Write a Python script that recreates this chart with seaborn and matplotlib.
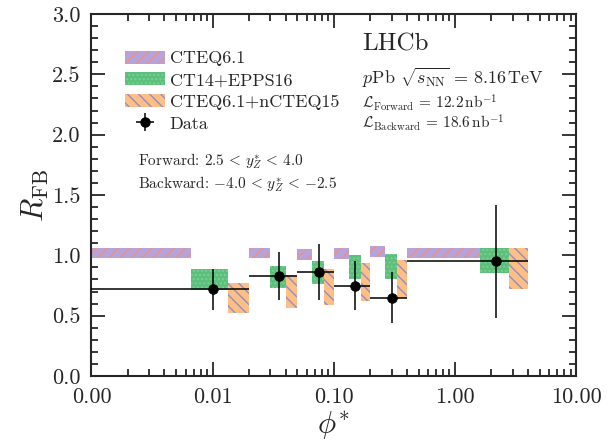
import numpy as np
import pandas as pd
import matplotlib
matplotlib.use("Agg")
import matplotlib.pyplot as plt
import seaborn as sns
from matplotlib.patches import Patch
from matplotlib.ticker import FixedLocator, MultipleLocator, FormatStrFormatter, NullFormatter, LogLocator
from matplotlib.legend_handler import HandlerTuple
from matplotlib.lines import Line2D

# phi* bin edges
bin_lo = [0.0, 0.02, 0.05, 0.1, 0.2, 0.4]
bin_hi = [0.02, 0.05, 0.1, 0.2, 0.4, 4.0]

# measured R_FB and total uncertainty
r_fb = [0.72, 0.83, 0.86, 0.75, 0.65, 0.95]
r_fb_err = [0.17, 0.20, 0.23, 0.20, 0.21, 0.47]

# theory predictions: lower / upper edges of the uncertainty band
cteq_lo = [0.98, 0.98, 0.965, 0.97, 0.99, 0.98]
cteq_hi = [1.065, 1.065, 1.05, 1.06, 1.075, 1.065]
epps_lo = [0.71, 0.73, 0.76, 0.80, 0.80, 0.85]
epps_hi = [0.885, 0.91, 0.95, 1.00, 1.01, 1.06]
ncteq_lo = [0.52, 0.56, 0.585, 0.625, 0.645, 0.72]
ncteq_hi = [0.77, 0.84, 0.885, 0.94, 0.965, 1.065]

x_ticks = [0.001, 0.01, 0.1, 1.0, 10.0]

sns.set_style("ticks")
plt.rcParams.update({
    "font.family": "serif",
    "font.serif": ["cmr10"],
    "mathtext.fontset": "cm",
    "axes.unicode_minus": False,
    "axes.formatter.use_mathtext": True,
    "axes.linewidth": 1.5,
    "hatch.linewidth": 1.0,
})

df = pd.DataFrame({
    "lo": bin_lo, "hi": bin_hi, "r": r_fb, "err": r_fb_err,
})
df["center"] = 0.5 * (df["lo"] + df["hi"])
df["w"] = (df["hi"] - df["lo"]) / 3.0

fig = plt.figure(figsize=(6.07, 4.48), dpi=100)
ax = fig.add_axes([0.1507, 0.1607, 0.7985, 0.8080])
ax.set_xscale("log")

c_purple = "#b7a3dc"
c_salmon = "#f0907a"
c_green = "#5cbf7c"
c_green_h = "#7bd094"
c_orange = "#ffbe84"
c_blue = "#8f8fca"

bands = [
    (cteq_lo, cteq_hi, 0, c_purple, c_salmon, "///", "CTEQ6.1"),
    (epps_lo, epps_hi, 1, c_green, c_green_h, "....", "CT14+EPPS16"),
    (ncteq_lo, ncteq_hi, 2, c_orange, c_blue, "\\\\\\", "CTEQ6.1+nCTEQ15"),
]
handles = []
for lo, hi, k, fc, hc, hatch, lab in bands:
    left = df["lo"] + k * df["w"]
    ax.bar(left, np.array(hi) - np.array(lo), width=df["w"], bottom=lo,
           align="edge", facecolor=fc, edgecolor=hc, hatch=hatch,
           linewidth=0, zorder=2)
    handles.append(Patch(facecolor=fc, edgecolor=hc, hatch=hatch,
                         linewidth=0, label=lab))

eb = ax.errorbar(df["center"], df["r"],
                 xerr=[df["center"] - df["lo"], df["hi"] - df["center"]],
                 yerr=df["err"], fmt="none", ecolor="black",
                 elinewidth=1.1, capsize=0, zorder=4)
sns.scatterplot(data=df, x="center", y="r", ax=ax, color="black", s=48,
                edgecolor="black", zorder=5, legend=False)
mk = Line2D([], [], marker="o", color="black", linestyle="none", markersize=6.5)
handles.append((eb, mk))

ax.set_xlim(0.001, 10.0)
ax.set_ylim(0.0, 3.0)
ax.xaxis.set_major_locator(FixedLocator(x_ticks))
ax.xaxis.set_major_formatter(FormatStrFormatter("%.2f"))
ax.xaxis.set_minor_locator(LogLocator(base=10, subs=np.arange(2, 10), numticks=20))
ax.xaxis.set_minor_formatter(NullFormatter())
ax.yaxis.set_major_locator(MultipleLocator(0.5))
ax.yaxis.set_minor_locator(MultipleLocator(0.1))
ax.yaxis.set_major_formatter(FormatStrFormatter("%.1f"))

ax.tick_params(which="both", direction="in", top=True, right=True,
               labelsize=16, width=1.3)
ax.tick_params(which="major", length=10, pad=8)
ax.tick_params(which="minor", length=5)

ax.set_xlabel(r"$\phi^{*}$", fontsize=22, labelpad=2)
ax.set_ylabel(r"$R_{\mathrm{FB}}$", fontsize=22, labelpad=0.5)

leg = ax.legend(handles=handles,
                labels=["CTEQ6.1", "CT14+EPPS16", "CTEQ6.1+nCTEQ15", "Data"],
                handler_map={tuple: HandlerTuple(ndivide=1)},
                loc="upper left", bbox_to_anchor=(0.055, 0.919),
                frameon=False, fontsize=13, handlelength=2.2,
                handleheight=0.75, labelspacing=0.32, handletextpad=0.25,
                borderaxespad=0.0)

ax.text(0.097, 0.593, r"Forward: $2.5\,<\,y^{*}_{Z}\,<\,4.0$",
        transform=ax.transAxes, fontsize=11, va="center", ha="left")
ax.text(0.097, 0.531, r"Backward: ${-4.0}\,<\,y^{*}_{Z}\,<\,{-2.5}$",
        transform=ax.transAxes, fontsize=11, va="center", ha="left")

ax.text(0.559, 0.915, "LHCb", transform=ax.transAxes, fontsize=18,
        va="center", ha="left")
ax.text(0.559, 0.822, r"$p$Pb $\sqrt{s_{\mathrm{NN}}}\,=\,8.16\,\mathrm{TeV}$",
        transform=ax.transAxes, fontsize=13, va="center", ha="left")
ax.text(0.559, 0.756, r"$\mathcal{L}_{\mathrm{Forward}}\,=\,12.2\,\mathrm{nb}^{-1}$",
        transform=ax.transAxes, fontsize=11, va="center", ha="left")
ax.text(0.559, 0.700, r"$\mathcal{L}_{\mathrm{Backward}}\,=\,18.6\,\mathrm{nb}^{-1}$",
        transform=ax.transAxes, fontsize=11, va="center", ha="left")

fig.savefig("out.png", dpi=100)
